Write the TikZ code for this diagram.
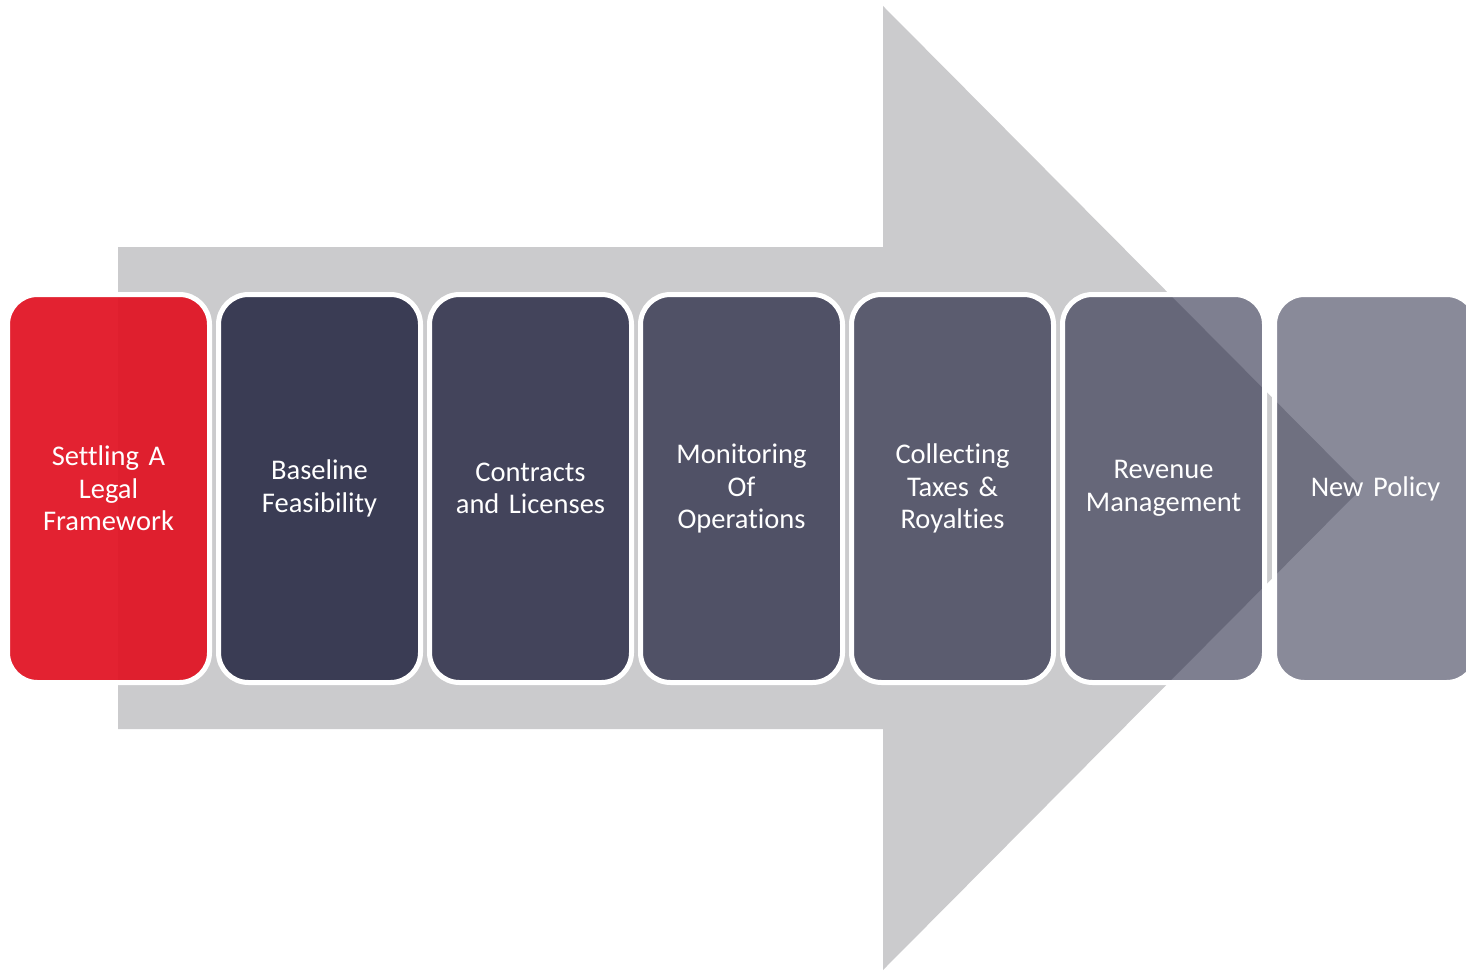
\documentclass[tikz,border=0pt]{standalone}
\usepackage{fontspec}
\setmainfont[RawFeature={-liga;-clig}]{Carlito}
\definecolor{arrowgray}{RGB}{203,203,205}
\definecolor{navy}{RGB}{20,22,52}
\definecolor{redbox}{RGB}{225,22,38}
\begin{document}
\begin{tikzpicture}[x=1pt,y=-1pt,
  stage/.style={rectangle, rounded corners=30pt, draw=white, line width=5pt,
    minimum width=202pt, minimum height=388pt, text width=190pt, align=center,
    text=white, text opacity=1, draw opacity=1,
    font=\fontsize{28.5}{32.5}\selectfont},
  navystage/.style={stage, fill=navy, fill opacity=#1}]
\useasboundingbox (0,0) rectangle (1466,971);
\clip (0,0) rectangle (1466,971);
\fill[arrowgray] (118,247) -- (883,247) -- (883,6) -- (1362,488) -- (883,970) -- (883,729) -- (118,729) -- cycle;
\node[stage, fill=redbox, fill opacity=0.95] (b1) at (108.5,488.5) {Settling A\\Legal\\Framework};
\node[navystage=0.79] (b2) at (319.5,488.5) {Baseline\\Feasibility};
\node[navystage=0.74] (b3) at (530.5,488.5) {Contracts\\and Licenses};
\node[navystage=0.67] (b4) at (741.5,488.5) {Monitoring\\Of\\Operations};
\node[navystage=0.61] (b5) at (952.5,488.5) {Collecting\\Taxes \&\\Royalties};
\node[navystage=0.55] (b6) at (1163.5,488.5) {Revenue\\Management};
\node[navystage=0.50] (b7) at (1375.5,488.5) {New Policy};
\end{tikzpicture}
\end{document}
